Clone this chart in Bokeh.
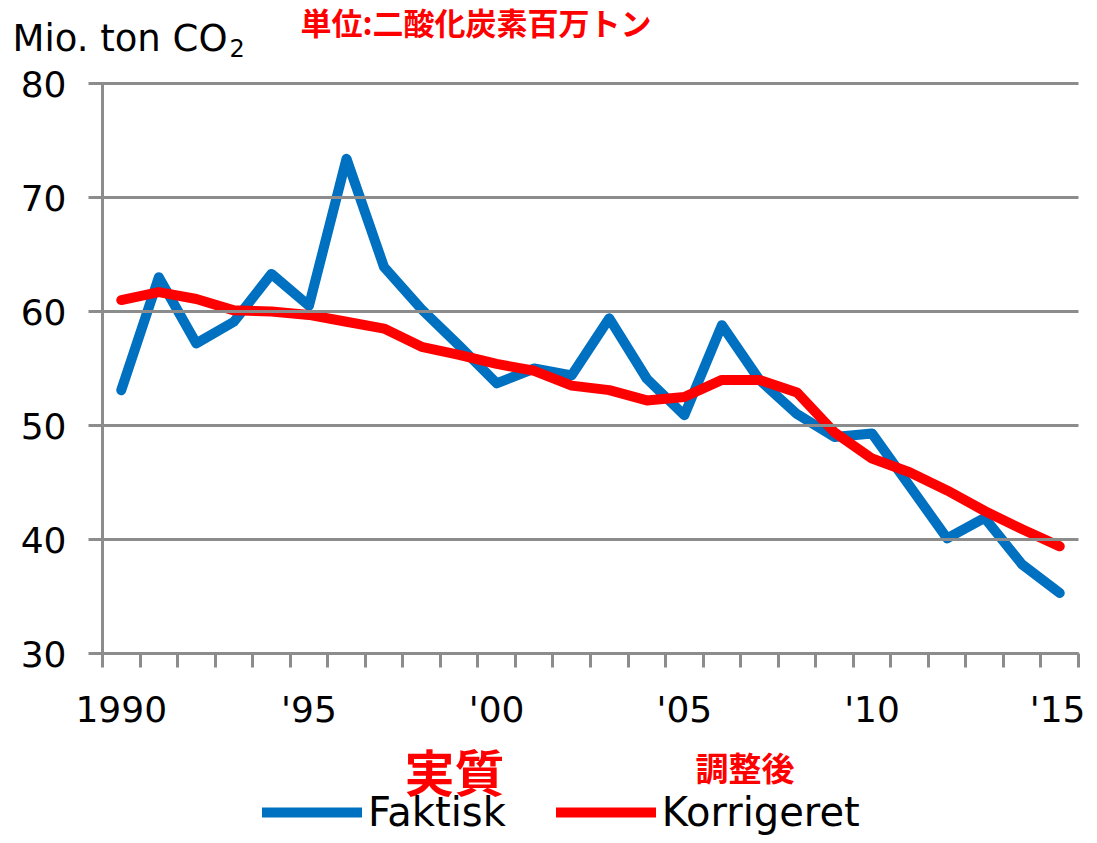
from bokeh.plotting import figure
from bokeh.models import FixedTicker, Label, Legend, LegendItem, Range1d
from bokeh.embed import file_html
from bokeh.resources import INLINE

years = list(range(1990, 2016))
faktisk = [53.1, 63.0, 57.2, 59.1, 63.3, 60.5, 73.4, 63.9, 60.2, 57.0,
           53.7, 55.0, 54.4, 59.4, 54.1, 50.9, 58.8, 54.0, 51.0, 49.0,
           49.3, 44.7, 40.1, 41.9, 37.8, 35.3]
korrigeret = [61.0, 61.7, 61.1, 60.1, 60.0, 59.7, 59.1, 58.5, 56.9, 56.2,
              55.4, 54.8, 53.5, 53.1, 52.2, 52.5, 54.0, 54.0, 52.9, 49.4,
              47.1, 45.9, 44.3, 42.5, 40.9, 39.4]
x_tick_years = [1990, 1995, 2000, 2005, 2010, 2015]
x_tick_labels = ["1990", "'95", "'00", "'05", "'10", "'15"]
y_ticks = [30, 40, 50, 60, 70, 80]
series_names = ["Faktisk", "Korrigeret"]
unit_label = "Mio. ton CO"
unit_sub = "2"
jp_unit = "単位:二酸化炭素百万トン"
jp_faktisk = "実質"
jp_korrigeret = "調整後"

GRAY = "#8C8C8C"
BLUE = "#0070C0"
RED = "#FF0000"
FONT = "DejaVu Sans"
JP = "Noto Sans CJK JP"

# canvas and plot-area geometry (pixels)
W, H = 1085, 835
LEFT, RIGHT, TOP, BOTTOM = 102, 1078, 83, 653
X0, X1 = years[0] - 0.5, years[-1] + 0.5
Y0, Y1 = y_ticks[0], y_ticks[-1]
sx = (RIGHT - LEFT) / (X1 - X0)
sy = (BOTTOM - TOP) / (Y1 - Y0)
x_start = X0 - LEFT / sx
y_top = Y1 + TOP / sy


def X(px):
    return x_start + px / sx


def Y(py):
    return y_top - py / sy


p = figure(width=W, height=H, output_backend="svg", toolbar_location=None,
           x_range=Range1d(x_start, x_start + W / sx),
           y_range=Range1d(y_top - H / sy, y_top),
           min_border=0, min_border_left=0, min_border_right=0,
           min_border_top=0, min_border_bottom=0)
p.outline_line_color = None
p.xgrid.grid_line_color = None
p.ygrid.grid_line_color = None

# y axis: ticks reach across the plot area and serve as the gridlines
ya = p.yaxis[0]
ya.fixed_location = X0
ya.bounds = (Y0, Y1)
ya.ticker = FixedTicker(ticks=y_ticks)
ya.axis_line_color = GRAY
ya.axis_line_width = 3
ya.major_tick_line_color = GRAY
ya.major_tick_line_width = 3
ya.major_tick_out = 14
ya.major_tick_in = RIGHT - LEFT
ya.minor_tick_line_color = None
ya.major_label_text_font = FONT
ya.major_label_text_font_size = "36px"
ya.major_label_text_color = "black"
ya.major_label_standoff = 22

xa = p.xaxis[0]
xa.fixed_location = Y0
xa.bounds = (X0, X1)
boundaries = [y - 0.5 for y in years] + [years[-1] + 0.5]
xa.ticker = FixedTicker(ticks=x_tick_years, minor_ticks=boundaries)
xa.major_label_overrides = {y: l for y, l in zip(x_tick_years, x_tick_labels)}
xa.axis_line_color = GRAY
xa.axis_line_width = 3
xa.major_tick_line_color = None
xa.major_tick_out = 14
xa.major_tick_in = 0
xa.minor_tick_line_color = GRAY
xa.minor_tick_line_width = 3
xa.minor_tick_out = 14
xa.minor_tick_in = 0
xa.major_label_text_font = FONT
xa.major_label_text_font_size = "36px"
xa.major_label_text_color = "black"
xa.major_label_standoff = 21

r1 = p.line(years, faktisk, line_color=BLUE, line_width=10,
            line_join="round", line_cap="round")
r2 = p.line(years, korrigeret, line_color=RED, line_width=10,
            line_join="round", line_cap="round")

legend = Legend(items=[LegendItem(label=series_names[0], renderers=[r1]),
                       LegendItem(label=series_names[1], renderers=[r2])],
                orientation="horizontal", location=(262, 0),
                glyph_width=100, glyph_height=40, label_height=40,
                label_standoff=6, spacing=50, padding=0, margin=0,
                border_line_color=None, background_fill_alpha=0,
                label_text_font=FONT, label_text_font_size="40px",
                label_text_color="black")
p.add_layout(legend, "center")

p.add_layout(Label(x=X(12), y=Y(38), text=unit_label, text_font=FONT,
                   text_font_size="37px", text_color="black",
                   text_baseline="alphabetic", text_align="left"))
p.add_layout(Label(x=X(229), y=Y(47), text=unit_sub, text_font=FONT,
                   text_font_size="24px", text_color="black",
                   text_baseline="alphabetic", text_align="left"))
p.add_layout(Label(x=X(300), y=Y(20.5), text=jp_unit, text_font=JP,
                   text_font_style="bold", text_font_size="31px",
                   text_color=RED, text_baseline="middle", text_align="left"))
p.add_layout(Label(x=X(404), y=Y(769), text=jp_faktisk, text_font=JP,
                   text_font_style="bold", text_font_size="50px",
                   text_color=RED, text_baseline="middle", text_align="left"))
p.add_layout(Label(x=X(695), y=Y(766), text=jp_korrigeret, text_font=JP,
                   text_font_style="bold", text_font_size="33px",
                   text_color=RED, text_baseline="middle", text_align="left"))

open("out.html", "w").write(file_html(p, INLINE))
